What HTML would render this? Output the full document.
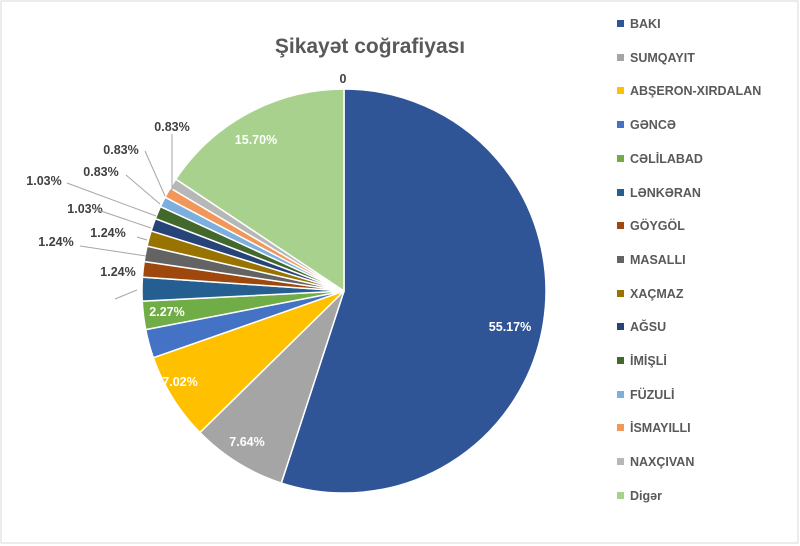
<!DOCTYPE html>
<html><head><meta charset="utf-8"><style>
body{margin:0;background:#fff}
#c{position:relative;width:800px;height:546px;font-family:"Liberation Sans",sans-serif;overflow:hidden}
.lg{position:absolute;left:617px;font-size:12.5px;font-weight:bold;color:#595959}
.lg i{display:inline-block;width:7px;height:7px;margin-right:6px;vertical-align:1px}
</style></head><body><div id="c">
<svg id="s" width="800" height="546" style="position:absolute;left:0;top:0">
<rect x="1" y="1" width="797" height="542" fill="none" stroke="#d9d9d9"/>
<text x="370" y="53" font-size="21" font-weight="bold" fill="#595959" text-anchor="middle" font-family="Liberation Sans,sans-serif">Şikayət coğrafiyası</text>
</svg>
<div id="L"></div>
</div>
<script>
var d=[["BAKI",55.17,"#2f5597"],["SUMQAYIT",7.64,"#a5a5a5"],["ABŞERON-XIRDALAN",7.02,"#ffc000"],["GƏNCƏ",2.3,"#4472c4"],["CƏLİLABAD",2.27,"#70ad47"],["LƏNKƏRAN",1.9,"#255e91"],["GÖYGÖL",1.24,"#9e480e"],["MASALLI",1.24,"#636363"],["XAÇMAZ",1.24,"#997300"],["AĞSU",1.03,"#264478"],["İMİŞLİ",1.03,"#43682b"],["FÜZULİ",0.83,"#7cafdd"],["İSMAYILLI",0.83,"#f1975a"],["NAXÇIVAN",0.83,"#b7b7b7"],["Digər",15.70,"#a9d18e"]];
var tot=0;d.forEach(function(x){tot+=x[1]});
var cx=344,cy=291,r=202,a=-Math.PI/2,s='',lg='';
d.forEach(function(x,i){var b=a+x[1]/tot*2*Math.PI;
var x1=cx+r*Math.cos(a),y1=cy+r*Math.sin(a),x2=cx+r*Math.cos(b),y2=cy+r*Math.sin(b);
s+='<path d="M'+cx+' '+cy+'L'+x1+' '+y1+'A'+r+' '+r+' 0 '+((b-a)>Math.PI?1:0)+' 1 '+x2+' '+y2+'Z" fill="'+x[2]+'" stroke="#fff" stroke-width="1.5"/>';a=b;
lg+='<div class="lg" style="top:'+(17+i*33.7)+'px"><i style="background:'+x[2]+'"></i>'+x[0]+'</div>';});
var t=[["55.17%",510,331,"#fff"],["7.64%",247,446,"#fff"],["7.02%",180,386,"#fff"],["2.27%",167,316,"#fff"],["15.70%",256,144,"#fff"],["0",343,83,"#404040"],
["1.24%",118,276,"#404040"],["1.24%",56,246,"#404040"],["1.24%",108,237,"#404040"],["1.03%",85,213,"#404040"],["1.03%",44,185,"#404040"],["0.83%",101,176,"#404040"],["0.83%",121,154,"#404040"],["0.83%",172,131,"#404040"]];
t.forEach(function(x){s+='<text x="'+x[1]+'" y="'+x[2]+'" font-size="12.5" font-weight="bold" fill="'+x[3]+'" text-anchor="middle" font-family="Liberation Sans,sans-serif">'+x[0]+'</text>'});
var ln=[[115,299,137,290],[80,246,146,256],[137,237,147,240],[67,183,156,216],[95,209,151,228],[126,175,160,204],[145,151,165,196],[172,134,172,190]];
ln.forEach(function(l){s+='<line x1="'+l[0]+'" y1="'+l[1]+'" x2="'+l[2]+'" y2="'+l[3]+'" stroke="#a6a6a6" stroke-width="1"/>'});
document.getElementById('s').innerHTML+=s;document.getElementById('L').innerHTML=lg;
</script></body></html>
